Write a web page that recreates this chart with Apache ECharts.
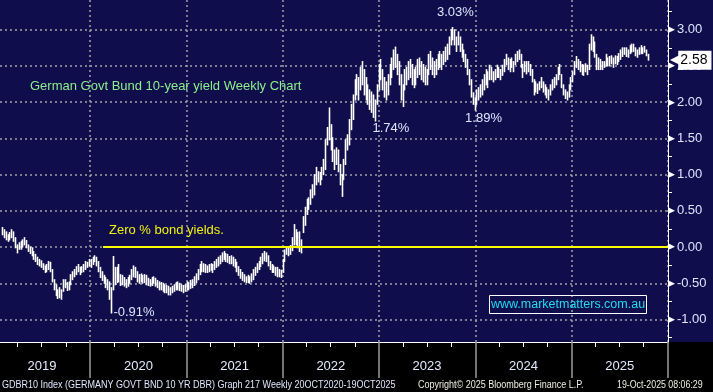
<!DOCTYPE html>
<html><head><meta charset="utf-8">
<script src="https://cdn.jsdelivr.net/npm/echarts@6/dist/echarts.min.js"></script>
<style>html,body{margin:0;padding:0;background:#000}#c{width:713px;height:392px}</style>
</head><body><div id="c"></div>
<script>
// ---------- data (weekly bars, Friday dates starting below) ----------
const firstWeek = [2019, 1, 1];           // 2019-02-01
const yearLabels = ['2019','2020','2021','2022','2023','2024','2025'];
const yMajorTicks = [-1, -0.5, 0, 0.5, 1, 1.5, 2, 2.5, 3];
const yMinorTicks = [-1.25, -0.75, -0.25, 0.25, 0.75, 1.25, 1.75, 2.25, 2.75, 3.25];
const lastClose = 2.58;

const high2019 = [0.27,0.24,0.21,0.17,0.20,0.24,0.21,0.13,0.03,0.06,0.08,0.10,0.13,0.09,0.03,0.00,-0.01,-0.06,-0.10,-0.14,-0.17,-0.19,-0.23,-0.26,-0.24,-0.20,-0.21,-0.31,-0.45,-0.52,-0.59,-0.56,-0.59,-0.45,-0.45,-0.49,-0.48,-0.38,-0.34,-0.31,-0.27,-0.24,-0.28,-0.27,-0.24,-0.20,-0.21,-0.17];
const low2019  = [0.17,0.13,0.10,0.08,0.10,0.13,0.08,-0.01,-0.08,-0.03,-0.03,0.00,0.03,-0.01,-0.06,-0.09,-0.12,-0.17,-0.20,-0.24,-0.26,-0.28,-0.31,-0.35,-0.34,-0.31,-0.34,-0.48,-0.59,-0.67,-0.71,-0.70,-0.72,-0.61,-0.56,-0.60,-0.59,-0.52,-0.45,-0.41,-0.38,-0.34,-0.38,-0.35,-0.34,-0.31,-0.28,-0.26];
const high2020 = [-0.17,-0.14,-0.12,-0.14,-0.20,-0.28,-0.34,-0.39,-0.42,-0.45,-0.48,-0.56,-0.13,-0.28,-0.28,-0.24,-0.38,-0.39,-0.42,-0.45,-0.42,-0.39,-0.31,-0.26,-0.28,-0.34,-0.38,-0.37,-0.39,-0.38,-0.39,-0.43,-0.45,-0.42,-0.41,-0.43,-0.46,-0.48,-0.49,-0.50,-0.52,-0.53,-0.54,-0.56,-0.54,-0.52,-0.49,-0.48,-0.50,-0.52,-0.53,-0.52];
const low2020  = [-0.28,-0.24,-0.20,-0.26,-0.34,-0.42,-0.46,-0.50,-0.56,-0.59,-0.72,-0.91,-0.59,-0.52,-0.49,-0.48,-0.53,-0.52,-0.54,-0.56,-0.54,-0.50,-0.45,-0.41,-0.42,-0.48,-0.50,-0.48,-0.50,-0.49,-0.52,-0.53,-0.54,-0.53,-0.50,-0.54,-0.56,-0.59,-0.59,-0.61,-0.63,-0.63,-0.66,-0.66,-0.63,-0.61,-0.59,-0.59,-0.60,-0.61,-0.63,-0.61];
const high2021 = [-0.48,-0.49,-0.46,-0.45,-0.41,-0.37,-0.31,-0.24,-0.20,-0.23,-0.24,-0.26,-0.24,-0.23,-0.24,-0.20,-0.17,-0.14,-0.12,-0.08,-0.06,-0.09,-0.10,-0.13,-0.12,-0.14,-0.17,-0.21,-0.27,-0.31,-0.35,-0.38,-0.41,-0.39,-0.41,-0.37,-0.31,-0.28,-0.23,-0.20,-0.14,-0.09,-0.06,-0.08,-0.12,-0.20,-0.24,-0.26,-0.28,-0.28,-0.31,-0.32,-0.17];
const low2021  = [-0.59,-0.59,-0.57,-0.56,-0.53,-0.49,-0.45,-0.38,-0.34,-0.34,-0.35,-0.35,-0.34,-0.32,-0.35,-0.31,-0.28,-0.26,-0.23,-0.20,-0.17,-0.20,-0.21,-0.23,-0.23,-0.26,-0.28,-0.34,-0.39,-0.43,-0.46,-0.48,-0.49,-0.49,-0.50,-0.48,-0.45,-0.39,-0.35,-0.31,-0.27,-0.23,-0.19,-0.20,-0.26,-0.31,-0.35,-0.35,-0.39,-0.41,-0.41,-0.42,-0.35];
const high2022 = [-0.04,0.00,0.00,0.02,0.13,0.31,0.24,0.20,0.21,0.10,0.42,0.55,0.66,0.68,0.79,0.86,1.00,1.10,1.04,1.03,1.10,1.21,1.48,1.65,1.92,1.69,1.51,1.34,1.37,1.34,1.14,1.00,1.21,1.48,1.55,1.76,1.97,2.10,2.31,2.38,2.34,2.48,2.56,2.45,2.34,2.24,2.17,2.14,2.10,2.03,2.24,2.52];
const low2022  = [-0.20,-0.10,-0.12,-0.10,-0.05,0.03,0.03,-0.01,-0.06,-0.08,0.20,0.30,0.45,0.52,0.59,0.68,0.72,0.86,0.90,0.86,0.93,1.00,1.07,1.41,1.48,1.34,1.18,1.07,1.14,1.04,0.86,0.70,0.93,1.14,1.34,1.41,1.62,1.76,2.03,2.10,2.03,2.17,2.24,2.10,2.03,1.97,1.90,1.86,1.79,1.74,1.97,2.17];
const high2023 = [2.59,2.45,2.34,2.28,2.38,2.52,2.61,2.72,2.76,2.66,2.56,2.38,2.24,2.45,2.48,2.56,2.59,2.52,2.45,2.48,2.59,2.61,2.56,2.52,2.48,2.45,2.66,2.70,2.61,2.56,2.59,2.66,2.70,2.66,2.70,2.76,2.80,2.90,3.00,3.03,3.00,2.90,2.97,2.90,2.80,2.72,2.66,2.59,2.45,2.31,2.13,2.06];
const low2023  = [2.31,2.17,2.07,2.03,2.10,2.24,2.34,2.45,2.48,2.38,2.24,2.03,1.94,2.17,2.24,2.31,2.34,2.24,2.20,2.24,2.34,2.38,2.31,2.28,2.24,2.24,2.38,2.45,2.38,2.34,2.38,2.45,2.48,2.45,2.52,2.56,2.59,2.66,2.79,2.86,2.79,2.70,2.79,2.70,2.62,2.56,2.48,2.38,2.24,2.07,1.97,1.89];
const high2024 = [2.17,2.20,2.24,2.31,2.38,2.45,2.42,2.51,2.48,2.42,2.45,2.51,2.48,2.45,2.51,2.59,2.66,2.61,2.59,2.61,2.56,2.66,2.70,2.72,2.66,2.52,2.56,2.56,2.56,2.52,2.45,2.31,2.28,2.25,2.28,2.34,2.28,2.24,2.20,2.17,2.24,2.31,2.34,2.38,2.48,2.52,2.38,2.24,2.17,2.14,2.24,2.34];
const low2024  = [1.97,2.03,2.07,2.10,2.17,2.24,2.20,2.31,2.31,2.28,2.31,2.34,2.34,2.31,2.37,2.42,2.52,2.45,2.42,2.48,2.42,2.52,2.56,2.59,2.48,2.34,2.42,2.39,2.42,2.37,2.28,2.10,2.14,2.12,2.17,2.20,2.14,2.10,2.06,2.03,2.10,2.17,2.20,2.24,2.31,2.38,2.20,2.10,2.05,2.03,2.07,2.17];
const high2025 = [2.42,2.56,2.63,2.59,2.56,2.52,2.51,2.53,2.51,2.80,2.93,2.90,2.83,2.66,2.61,2.59,2.56,2.56,2.66,2.61,2.63,2.64,2.61,2.64,2.63,2.67,2.72,2.75,2.75,2.75,2.72,2.78,2.80,2.80,2.75,2.72,2.75,2.78,2.75,2.77,2.72,2.66];
const low2025  = [2.28,2.38,2.48,2.45,2.42,2.38,2.37,2.42,2.38,2.45,2.72,2.70,2.62,2.45,2.45,2.45,2.45,2.48,2.50,2.50,2.50,2.53,2.48,2.53,2.52,2.56,2.59,2.63,2.66,2.63,2.62,2.67,2.69,2.70,2.64,2.62,2.66,2.67,2.67,2.69,2.64,2.58];

const annotations = [
  {week: 244, value: 3.03, offset: [3, -15]},
  {week: 202, value: 1.74, offset: [16, 7]},
  {week: 256, value: 1.89, offset: [9, 8]},
  {week: 59,  value: -0.91, offset: [23, -1]}
];

// ---------- build ----------
const weekHigh = [].concat(high2019, high2020, high2021, high2022, high2023, high2024, high2025);
const weekLow  = [].concat(low2019, low2020, low2021, low2022, low2023, low2024, low2025);
const DAY = 86400000;
const t0 = Date.UTC(firstWeek[0], firstWeek[1], firstWeek[2]);
const weeks = weekHigh.map((_, i) => t0 + i * 7 * DAY);
const bars = weeks.map((t, i) => [t, weekLow[i], weekHigh[i]]);

const xMin = Date.UTC(2019, 0, 24);
const xMax = Date.UTC(2026, 0, 1);
const yearStarts = [], quarterTicks = [], midYears = [];
yearLabels.forEach(y => {
  const yy = +y;
  yearStarts.push(Date.UTC(yy + 1, 0, 1));
  [3, 6, 9].forEach(m => quarterTicks.push(Date.UTC(yy, m, 1)));
  midYears.push(Date.UTC(yy, 6, 2));
});

const chart = echarts.init(document.getElementById('c'), null, {renderer: 'canvas'});
const navy = '#0f0d4b';
const grid = {left: 0, right: 45, top: 0, bottom: 50};
const dotted = {color: '#a3a3ab', width: 1.5, type: [2, 3]};

chart.setOption({
  animation: false,
  backgroundColor: '#000',
  grid: Object.assign({show: false}, grid),
  xAxis: [
    {
      type: 'value', min: xMin, max: xMax, gridIndex: 0, position: 'bottom',
      axisLine: {show: true, onZero: false, lineStyle: {color: '#ffffff', width: 1}},
      axisTick: {show: true, customValues: yearStarts, length: 36, lineStyle: {color: '#9c9c9c', width: 1.5}},
      axisLabel: {show: false},
      splitLine: {show: true, lineStyle: dotted}
    },
    {
      type: 'value', min: xMin, max: xMax, gridIndex: 0, position: 'bottom',
      axisLine: {show: true, onZero: false, lineStyle: {color: '#ffffff', width: 1}},
      axisTick: {show: true, customValues: quarterTicks, length: 5, lineStyle: {color: '#ffffff', width: 1}},
      axisLabel: {show: true, customValues: midYears, margin: 18, color: '#e4eaff', fontSize: 13,
        fontFamily: 'Liberation Sans, Arial, sans-serif',
        formatter: v => String(new Date(v).getUTCFullYear())},
      splitLine: {show: false}
    }
  ],
  yAxis: [
    {
      type: 'value', position: 'right', min: -1.31, max: 3.41,
      axisLine: {show: true, onZero: false, lineStyle: {color: '#ffffff', width: 1}},
      axisTick: {show: false, customValues: yMajorTicks},
      axisLabel: {show: true, customValues: yMajorTicks, margin: 0,
        formatter: v => '{t|▶}{v|' + v.toFixed(2) + '}',
        rich: {
          t: {color: '#ffffff', fontSize: 9, fontFamily: 'DejaVu Sans', padding: [0, 2, 0, 0]},
          v: {color: '#dce6ff', fontSize: 13, fontFamily: 'Liberation Sans, Arial, sans-serif'}
        }},
      splitLine: {show: true, lineStyle: dotted}
    },
    {
      type: 'value', position: 'right', min: -1.31, max: 3.41,
      axisLine: {show: true, onZero: false, lineStyle: {color: '#ffffff', width: 1}},
      axisTick: {show: true, customValues: yMinorTicks, length: 4, lineStyle: {color: '#ffffff', width: 1}},
      axisLabel: {show: false},
      splitLine: {show: false}
    }
  ],
  series: [{
    type: 'custom',
    xAxisIndex: 0, yAxisIndex: 0,
    data: bars,
    encode: {x: 0, y: [1, 2]},
    z: 3,
    renderItem: (params, api) => {
      const t = api.value(0);
      const a = api.coord([t, api.value(1)]);
      const b = api.coord([t, api.value(2)]);
      const x = Math.round(a[0]) + 0.5;
      return {type: 'line', shape: {x1: x, y1: a[1] + 0.5, x2: x, y2: b[1] - 0.5},
              style: {stroke: '#ffffff', lineWidth: 1.6}};
    },
    markLine: {
      silent: true, symbol: ['none', 'none'],
      data: [
        [{coord: [Date.UTC(2020, 1, 19), 0], lineStyle: {color: '#ffff00', width: 2, type: 'solid'}, label: {show: false}},
         {coord: [xMax, 0]}],
        {yAxis: lastClose, lineStyle: {color: 'rgba(0,0,0,0)', width: 1},
         label: {show: true, position: 'end', distance: 2,
           formatter: '{a|◀}{b|' + lastClose.toFixed(2) + '}',
           rich: {
             a: {color: '#ffffff', fontSize: 12, fontFamily: 'DejaVu Sans', padding: [0, -1, 0, 0]},
             b: {color: '#000000', backgroundColor: '#ffffff', fontSize: 14, padding: [3, 4, 2, 2],
                 fontFamily: 'Liberation Sans, Arial, sans-serif'}
           }}}
      ]
    },
    markPoint: {
      silent: true, symbol: 'circle', symbolSize: 0,
      data: annotations.map(a => ({
        coord: [weeks[a.week], a.value],
        label: {show: true, position: 'inside', offset: a.offset,
          formatter: a.value.toFixed(2) + '%', color: '#dde6ff', fontSize: 13,
          fontFamily: 'Liberation Sans, Arial, sans-serif'}
      }))
    }
  }],
  graphic: [
    {type: 'rect', z: -100, silent: true, shape: {x: 0, y: 0, width: 713, height: 342}, style: {fill: navy}},
    {type: 'text', z: 10, silent: true, x: 30, y: 86,
      style: {text: 'German Govt Bund 10-year yield Weekly Chart', fill: '#8cf08c', fontSize: 13,
        fontFamily: 'Liberation Sans, Arial, sans-serif', verticalAlign: 'middle'}},
    {type: 'text', z: 10, silent: true, x: 109, y: 230,
      style: {text: 'Zero % bond yields.', fill: '#f2f20a', fontSize: 13,
        fontFamily: 'Liberation Sans, Arial, sans-serif', verticalAlign: 'middle'}},
    {type: 'rect', z: 10, silent: true, shape: {x: 489.5, y: 295.5, width: 157, height: 18},
      style: {fill: 'none', stroke: '#ffffff', lineWidth: 1}},
    {type: 'text', z: 10, silent: true, x: 568, y: 305,
      style: {text: 'www.marketmatters.com.au', fill: '#22dcf0', fontSize: 12.5,
        fontFamily: 'Liberation Sans, Arial, sans-serif', align: 'center', verticalAlign: 'middle'}},
    {type: 'text', z: 10, silent: true, x: 2, y: 385, scaleX: 0.9,
      style: {text: 'GDBR10 Index (GERMANY GOVT BND 10 YR DBR) Graph 217 Weekly 20OCT2020-19OCT2025',
        fill: '#dfe6ff', fontSize: 10, fontFamily: 'Liberation Sans, Arial, sans-serif', verticalAlign: 'middle'}},
    {type: 'text', z: 10, silent: true, x: 418, y: 385, scaleX: 0.9,
      style: {text: 'Copyright© 2025 Bloomberg Finance L.P.',
        fill: '#f0eee0', fontSize: 10, fontFamily: 'Liberation Sans, Arial, sans-serif', verticalAlign: 'middle'}},
    {type: 'text', z: 10, silent: true, x: 617, y: 385, scaleX: 0.88,
      style: {text: '19-Oct-2025 08:06:29',
        fill: '#f0eee0', fontSize: 10, fontFamily: 'Liberation Sans, Arial, sans-serif', verticalAlign: 'middle'}}
  ]
});
</script>
</body></html>
